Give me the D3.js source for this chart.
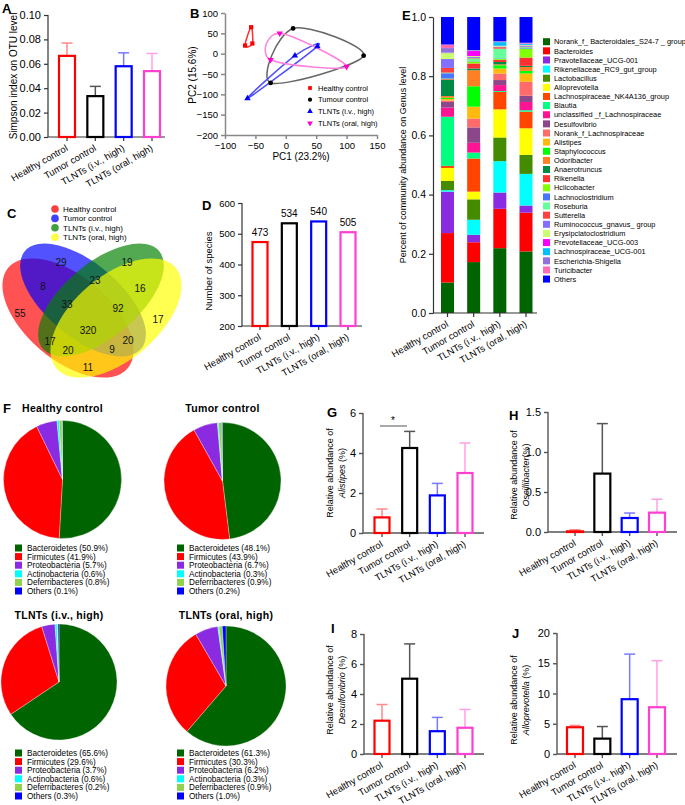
<!DOCTYPE html>
<html><head><meta charset="utf-8">
<script src="https://cdn.jsdelivr.net/npm/d3@7"></script>
<style>body{margin:0;background:#fff} svg{display:block}</style>
</head><body>
<svg id="fig" width="685" height="805"></svg>
<script>
// ---------------- DATA ----------------
const groups = ["Healthy control","Tumor control","TLNTs (i.v., high)","TLNTs (oral, high)"];
const simpsonMean = [0.0665,0.0335,0.058,0.054];
const simpsonSD   = [0.0105,0.008,0.011,0.0145];
const speciesCount = [473,534,540,505];
const alistipesMean = [0.78,4.25,1.88,3.0];
const alistipesSD   = [0.42,0.83,0.6,1.5];
const oscilliMean = [0.008,0.73,0.175,0.242];
const oscilliSD   = [0.02,0.625,0.062,0.168];
const desulfoMean = [2.22,5.02,1.52,1.75];
const desulfoSD   = [1.08,2.32,0.92,1.22];
const allopreMean = [4.42,2.54,9.06,7.73];
const allopreSD   = [0.3,2.0,7.45,7.7];

const pcaHealthy = [[-67,20],[-57,65],[-55,25]];
const pcaTumour  = [[12,62],[128,-5],[-25,-72]];
const pcaIV      = [[-63,-110],[15,-5],[52,18]];
const pcaOral    = [[-10,50],[-25,-15],[100,-32]];
const pcaLegend  = ["Healthy control","Tumour control","TLNTs (i.v., high)","TLNTs (oral, high)"];
const pcaXTicks = [-100,-50,0,50,100,150];
const pcaYTicks = [-200,-150,-100,-50,0,50,100];

const vennCounts = [55,29,19,17,8,23,16,11,33,92,17,20,20,9,320];

const genusNames = ["Norank_f_ Bacteroidales_S24-7 _ group","Bacteroides","Pravotellaceae_UCG-001","Rikenellaceae_RC9_gut_group","Lactobacillus","Alloprevotella","Lachnospiraceae_NK4A136_group","Blautia","unclassified _f_Lachnospiraceae","Desulfovibrio","Norank_f_Lachnospiraceae","Alistipes","Staphylococcus","Odoribacter","Anaerotruncus","Rikenella","Hclicobacter","Lachnoclostridium","Roseburia","Sutterella","Ruminococcus_gnavus_ group","Erysipclatoclostridium","Prevotellaceae_UCG-003","Lachnospiraceae_UCG-001","Escherichia-Shigella","Turicibacter","Others"];
const genusHealthy = [0.103,0.167,0.14,0.005,0.031,0.044,0.007,0.166,0.031,0.019,0.005,0.005,0.004,0.006,0.055,0.002,0.002,0.018,0.002,0.016,0.03,0.02,0.001,0.001,0.015,0.012,0.093];
const genusTumor   = [0.172,0.067,0.025,0.051,0.069,0.026,0.112,0.02,0.033,0.052,0.03,0.04,0.069,0.054,0.006,0.017,0.007,0.001,0.009,0.002,0.003,0.003,0.017,0.001,0.001,0.001,0.112];
const genusIV      = [0.219,0.133,0.055,0.106,0.08,0.095,0.059,0.003,0.02,0.017,0.022,0.017,0.011,0.003,0.008,0.007,0.003,0.002,0.033,0.005,0.002,0.002,0.001,0.012,0.002,0.001,0.082];
const genusOral    = [0.208,0.131,0.024,0.107,0.064,0.09,0.056,0.005,0.028,0.021,0.047,0.028,0.009,0.013,0.004,0.028,0.03,0.002,0.003,0.002,0.003,0.002,0.001,0.003,0.002,0.002,0.087];
const eTicks = [0,0.2,0.4,0.6,0.8,1.0];

const phyla = ["Bacteroidetes","Firmicutes","Proteobacteria","Actinobacteria","Deferribacteres","Others"];
const phylaHealthy = [50.9,41.9,5.7,0.6,0.8,0.1];
const phylaTumor   = [48.1,43.9,6.7,0.3,0.9,0.2];
const phylaIV      = [65.6,29.6,3.7,0.6,0.2,0.3];
const phylaOral    = [61.3,30.3,6.2,0.3,0.9,1.0];

// ---------------- STYLE ----------------
const FONT = '"Liberation Sans", Arial, Helvetica, sans-serif';
const barColors = ["#ff0000","#000000","#0000ff","#ff3fcf"];
const errColors = ["#ff8a8a","#555555","#7a7aff","#ff9fe6"];
const genusColors = ["#006400","#ff0000","#8a2be2","#00ffff","#458b00","#ffff00","#ff4500","#00ff7f","#ff1493","#8b4789","#ff6a6a","#ffb90f","#00ff00","#ff7f24","#008b45","#ff3030","#7fff00","#4876ff","#66ff99","#ff4040","#8470ff","#caff70","#ff00ff","#00bfff","#9370db","#ff6eb4","#0000ff"];
const phylaColors = ["#006400","#ff0000","#8a2be2","#00ffff","#92d050","#0000ff"];

const svg = d3.select('#fig').style('font-family',FONT);

function styleAxis(sel,color,w,fs){
  sel.attr('font-family',FONT).attr('font-size',fs);
  sel.selectAll('path.domain').attr('stroke',color).attr('stroke-width',w);
  sel.selectAll('.tick line').attr('stroke',color).attr('stroke-width',w);
  sel.selectAll('.tick text').attr('fill','#000');
}
function letter(t,x,y){
  svg.append('text').attr('x',x).attr('y',y).attr('font-size',13).attr('font-weight','bold').text(t);
}

function barPanel(o){
  const g = svg.append('g');
  const y = d3.scaleLinear().domain(o.domain).range([o.yb,o.yt]);
  const x = d3.scalePoint().domain(groups).range([o.c0,o.c1]);
  const ya = g.append('g').attr('transform',`translate(${o.ax},0)`)
    .call(d3.axisLeft(y).tickValues(o.ticks).tickFormat(o.fmt).tickSize(4).tickSizeOuter(0).tickPadding(3));
  styleAxis(ya,o.axisColor,o.axisW,o.tickFont);
  ya.select('path.domain').attr('d',`M0,${o.yb}V${o.yt}`);
  const xa = g.append('g').attr('transform',`translate(0,${o.yb})`);
  xa.append('line').attr('x1',o.ax).attr('x2',o.axEnd).attr('stroke',o.axisColor).attr('stroke-width',o.axisW);
  xa.selectAll('line.t').data(groups).join('line').attr('class','t')
    .attr('x1',d=>x(d)).attr('x2',d=>x(d)).attr('y1',0).attr('y2',4)
    .attr('stroke',o.axisColor).attr('stroke-width',o.axisW);
  xa.selectAll('text').data(groups).join('text')
    .attr('transform',d=>`translate(${x(d)+1.5},13) rotate(-30)`)
    .attr('text-anchor','end').attr('font-size',o.catFont||9.5).text(d=>d);
  if(o.sd){
    const eg = g.append('g');
    o.means.forEach((m,i)=>{
      const cx=x(groups[i]), top=y(m+o.sd[i]);
      eg.append('line').attr('x1',cx).attr('x2',cx).attr('y1',y(m)).attr('y2',top).attr('stroke',errColors[i]).attr('stroke-width',1.5);
      eg.append('line').attr('x1',cx-5.5).attr('x2',cx+5.5).attr('y1',top).attr('y2',top).attr('stroke',errColors[i]).attr('stroke-width',1.5);
    });
  }
  g.selectAll('rect.bar').data(o.means).join('rect').attr('class','bar')
    .attr('x',(d,i)=>x(groups[i])-o.bw/2).attr('width',o.bw)
    .attr('y',d=>y(d)).attr('height',d=>Math.max(0,o.yb-y(d)))
    .attr('fill','none').attr('stroke',(d,i)=>barColors[i]).attr('stroke-width',2.2);
  if(o.valueLabels){
    g.selectAll('text.v').data(o.means).join('text').attr('class','v')
      .attr('x',(d,i)=>x(groups[i])).attr('y',d=>y(d)-6).attr('text-anchor','middle')
      .attr('font-size',10).text(d=>d);
  }
  return {x,y,g};
}
function yLabel2(x1,x2,cy,genus){
  svg.append('text').attr('transform',`translate(${x1},${cy}) rotate(-90)`).attr('text-anchor','middle').attr('font-size',9).text('Relative abundance of');
  const t2 = svg.append('text').attr('transform',`translate(${x2},${cy}) rotate(-90)`).attr('text-anchor','middle').attr('font-size',9);
  t2.append('tspan').attr('font-style','italic').text(genus);
  t2.append('tspan').text(genus==='Oscillibacter'?'(%)':' (%)');
}

// ---------------- A ----------------
letter('A',2,13);
barPanel({domain:[0,0.10],yb:137,yt:15,ax:48,axEnd:165,c0:67,c1:152,bw:16,ticks:[0,0.02,0.04,0.06,0.08,0.10],fmt:d3.format('.2f'),
  tickFont:11,axisColor:'#333',axisW:1.2,means:simpsonMean,sd:simpsonSD});
svg.append('text').attr('transform','translate(17,76) rotate(-90)').attr('text-anchor','middle').attr('font-size',10).text('Simpson index on OTU level');

// ---------------- B ----------------
letter('B',190,18);
{
  const x = d3.scaleLinear().domain([-100,150]).range([225,377]);
  const y = d3.scaleLinear().domain([-200,100]).range([135,13]);
  const gx = svg.append('g').attr('transform','translate(0,135)').call(d3.axisBottom(x).tickValues(pcaXTicks).tickSize(4).tickSizeOuter(0));
  styleAxis(gx,'#888',1.5,9.5);
  const gy = svg.append('g').attr('transform','translate(225,0)').call(d3.axisLeft(y).tickValues(pcaYTicks).tickSize(4).tickSizeOuter(0));
  styleAxis(gy,'#888',1.5,9.5);
  svg.append('text').attr('x',301).attr('y',160).attr('text-anchor','middle').attr('font-size',10).text('PC1 (23.2%)');
  svg.append('text').attr('transform','translate(196,75) rotate(-90)').attr('text-anchor','middle').attr('font-size',10).text('PC2 (15.6%)');
  const line = d3.line().x(d=>x(d[0])).y(d=>y(d[1])).curve(d3.curveCardinalClosed.tension(0));
  const sets = [
    {pts:pcaHealthy,line:'#ff3030',col:'#ff0000',sym:d3.symbolSquare,rot:0},
    {pts:pcaTumour,line:'#666666',col:'#000000',sym:d3.symbolCircle,rot:0},
    {pts:pcaIV,line:'#5050ff',col:'#0000ff',sym:d3.symbolTriangle,rot:0},
    {pts:pcaOral,line:'#ff80dd',col:'#ff00cc',sym:d3.symbolTriangle,rot:180}];
  sets.forEach(s=>{
    svg.append('path').attr('d',line(s.pts)).attr('fill','none').attr('stroke',s.line).attr('stroke-width',1.5);
  });
  sets.forEach(s=>{
    svg.selectAll(null).data(s.pts).join('path').attr('d',d3.symbol(s.sym,18))
      .attr('transform',d=>`translate(${x(d[0])},${y(d[1])}) rotate(${s.rot})`).attr('fill',s.col);
  });
  pcaLegend.forEach((t,i)=>{
    const yy = 88+i*11.7;
    svg.append('path').attr('d',d3.symbol(sets[i].sym,14)).attr('transform',`translate(310,${yy}) rotate(${sets[i].rot})`).attr('fill',sets[i].col);
    svg.append('text').attr('x',318).attr('y',yy+2.6).attr('font-size',7.5).text(t);
  });
}

// ---------------- C ----------------
letter('C',7,218);
{
  const vennColors = ["#ff0000","#0000ff","#008000","#ffff00"];
  const ell = [{cx:68,cy:318,rx:78,ry:42,r:40},{cx:83,cy:300,rx:76,ry:37,r:40},{cx:101,cy:300,rx:76,ry:37,r:-40},{cx:116,cy:318,rx:78,ry:42,r:-40}];
  ell.forEach((e,i)=>{
    svg.append('ellipse').attr('cx',0).attr('cy',0).attr('rx',e.rx).attr('ry',e.ry)
      .attr('transform',`translate(${e.cx},${e.cy}) rotate(${e.r})`)
      .attr('fill',vennColors[i]).attr('fill-opacity',0.68);
  });
  const pos = [[20,313],[61,262],[127,262],[158,319],[43,286],[95,280],[140,288],[88,367],[67,304],[118,308],[50,341],[128,340],[68,350],[112,349],[88,330]];
  vennCounts.forEach((c,i)=>{
    svg.append('text').attr('x',pos[i][0]).attr('y',pos[i][1]+3.5).attr('text-anchor','middle').attr('font-size',10).attr('fill','#111').text(c);
  });
  groups.forEach((t,i)=>{
    const yy=209+i*9.4;
    svg.append('circle').attr('cx',55).attr('cy',yy).attr('r',3.8).attr('fill',vennColors[i]).attr('fill-opacity',0.75);
    svg.append('text').attr('x',63).attr('y',yy+3).attr('font-size',8).text(t);
  });
}

// ---------------- D ----------------
letter('D',202,210);
barPanel({domain:[200,600],yb:326,yt:203,ax:242,axEnd:362,c0:260,c1:348,bw:15,ticks:[200,300,400,500,600],fmt:d3.format('d'),
  tickFont:9.5,axisColor:'#333',axisW:1.2,means:speciesCount,valueLabels:true});
svg.append('text').attr('transform','translate(212,271) rotate(-90)').attr('text-anchor','middle').attr('font-size',9.5).text('Number of species');

// ---------------- E ----------------
letter('E',402,20);
{
  const x = d3.scalePoint().domain(groups).range([447.5,526]);
  const y = d3.scaleLinear().domain([0,1]).range([313,17]);
  const table = groups.map((gname,gi)=>{
    const arr=[genusHealthy,genusTumor,genusIV,genusOral][gi];
    const row={group:gname}; genusNames.forEach((n,k)=>row[n]=arr[k]); return row;
  });
  const stack = d3.stack().keys(genusNames)(table);
  const bw=13;
  stack.forEach((layer,k)=>{
    svg.selectAll(null).data(layer).join('rect')
      .attr('x',d=>x(d.data.group)-bw/2).attr('width',bw)
      .attr('y',d=>y(Math.min(1,d[1]))).attr('height',d=>Math.max(0,y(d[0])-y(Math.min(1,d[1]))))
      .attr('fill',genusColors[k]);
  });
  const gy = svg.append('g').attr('transform','translate(433,0)').call(d3.axisLeft(y).tickValues(eTicks).tickFormat(d3.format('.1f')).tickSize(4).tickSizeOuter(0).tickPadding(3));
  styleAxis(gy,'#333',1.2,10.5);
  const xa = svg.append('g').attr('transform','translate(0,313)');
  xa.append('line').attr('x1',433).attr('x2',537).attr('stroke','#333').attr('stroke-width',1.2);
  xa.selectAll('line.t').data(groups).join('line').attr('class','t').attr('x1',d=>x(d)).attr('x2',d=>x(d)).attr('y1',0).attr('y2',4).attr('stroke','#333').attr('stroke-width',1.2);
  xa.selectAll('text').data(groups).join('text').attr('transform',d=>`translate(${x(d)+1.5},13) rotate(-30)`).attr('text-anchor','end').attr('font-size',9.5).text(d=>d);
  svg.append('text').attr('transform','translate(406,165) rotate(-90)').attr('text-anchor','middle').attr('font-size',9).text('Percent of community abundance on Genus level');
  genusNames.forEach((n,k)=>{
    const yy=41.7+k*9.13;
    svg.append('rect').attr('x',543).attr('y',yy-3.5).attr('width',7).attr('height',7).attr('fill',genusColors[k]);
    svg.append('text').attr('x',554).attr('y',yy+2.7).attr('font-size',7.4).text(n);
  });
}

// ---------------- F ----------------
letter('F',3,413);
{
  const pies = [
    {title:'Healthy control',vals:phylaHealthy,cx:62.5,cy:479.5,r:59,ty:412,lx:15,ly:548},
    {title:'Tumor control',vals:phylaTumor,cx:222.5,cy:481,r:58.5,ty:412,lx:177,ly:548},
    {title:'TLNTs (i.v., high)',vals:phylaIV,cx:59,cy:682,r:58,ty:619,lx:15,ly:753},
    {title:'TLNTs (oral, high)',vals:phylaOral,cx:226,cy:686,r:60,ty:619,lx:177,ly:753}];
  const pie = d3.pie().sort(null).value(d=>d);
  pies.forEach(p=>{
    const arc = d3.arc().innerRadius(0).outerRadius(p.r);
    const g = svg.append('g').attr('transform',`translate(${p.cx},${p.cy})`);
    g.selectAll('path').data(pie(p.vals)).join('path').attr('d',arc).attr('fill',(d,i)=>phylaColors[i]).attr('stroke','#fff').attr('stroke-width',0.3);
    svg.append('text').attr('x',p.cx).attr('y',p.ty).attr('text-anchor','middle').attr('font-size',10.5).attr('font-weight','bold').attr('letter-spacing',0.3).text(p.title);
    phyla.forEach((n,i)=>{
      const yy = p.ly + i*8.6;
      svg.append('rect').attr('x',p.lx).attr('y',yy-3.5).attr('width',7).attr('height',7).attr('fill',phylaColors[i]);
      svg.append('text').attr('x',p.lx+12).attr('y',yy+3).attr('font-size',8.2).text(`${n} (${p.vals[i].toFixed(1)}%)`);
    });
  });
}

// ---------------- G ----------------
letter('G',327,417);
{
  barPanel({domain:[0,6],yb:533,yt:413,ax:363,axEnd:484,c0:382,c1:465,bw:15,ticks:[0,2,4,6],fmt:d3.format('d'),
    tickFont:11,axisColor:'#555',axisW:1.4,means:alistipesMean,sd:alistipesSD});
  svg.append('line').attr('x1',380).attr('x2',407).attr('y1',426).attr('y2',426).attr('stroke','#555').attr('stroke-width',1);
  svg.append('text').attr('x',393).attr('y',424).attr('text-anchor','middle').attr('font-size',10).text('*');
  yLabel2(333,345,473,'Alistipes');
}
// ---------------- H ----------------
letter('H',509,420);
barPanel({domain:[0,1.5],yb:532,yt:412,ax:548,axEnd:677,c0:575,c1:657,bw:16,ticks:[0,0.5,1.0,1.5],fmt:d3.format('.1f'),
  tickFont:11,axisColor:'#555',axisW:1.4,means:oscilliMean,sd:oscilliSD});
yLabel2(517,529,475,'Oscillibacter');
// ---------------- I ----------------
letter('I',331,633);
barPanel({domain:[0,8],yb:754,yt:634,ax:364,axEnd:484,c0:382,c1:465,bw:15,ticks:[0,2,4,6,8],fmt:d3.format('d'),
  tickFont:11,axisColor:'#555',axisW:1.4,means:desulfoMean,sd:desulfoSD});
yLabel2(333,345,690,'Desulfovibrio');
// ---------------- J ----------------
letter('J',512,638);
barPanel({domain:[0,20],yb:754,yt:633,ax:557,axEnd:677,c0:575,c1:657,bw:16,ticks:[0,5,10,15,20],fmt:d3.format('d'),
  tickFont:11,axisColor:'#555',axisW:1.4,means:allopreMean,sd:allopreSD});
yLabel2(517,529,700,'Alloprevotella');
</script>
</body></html>
